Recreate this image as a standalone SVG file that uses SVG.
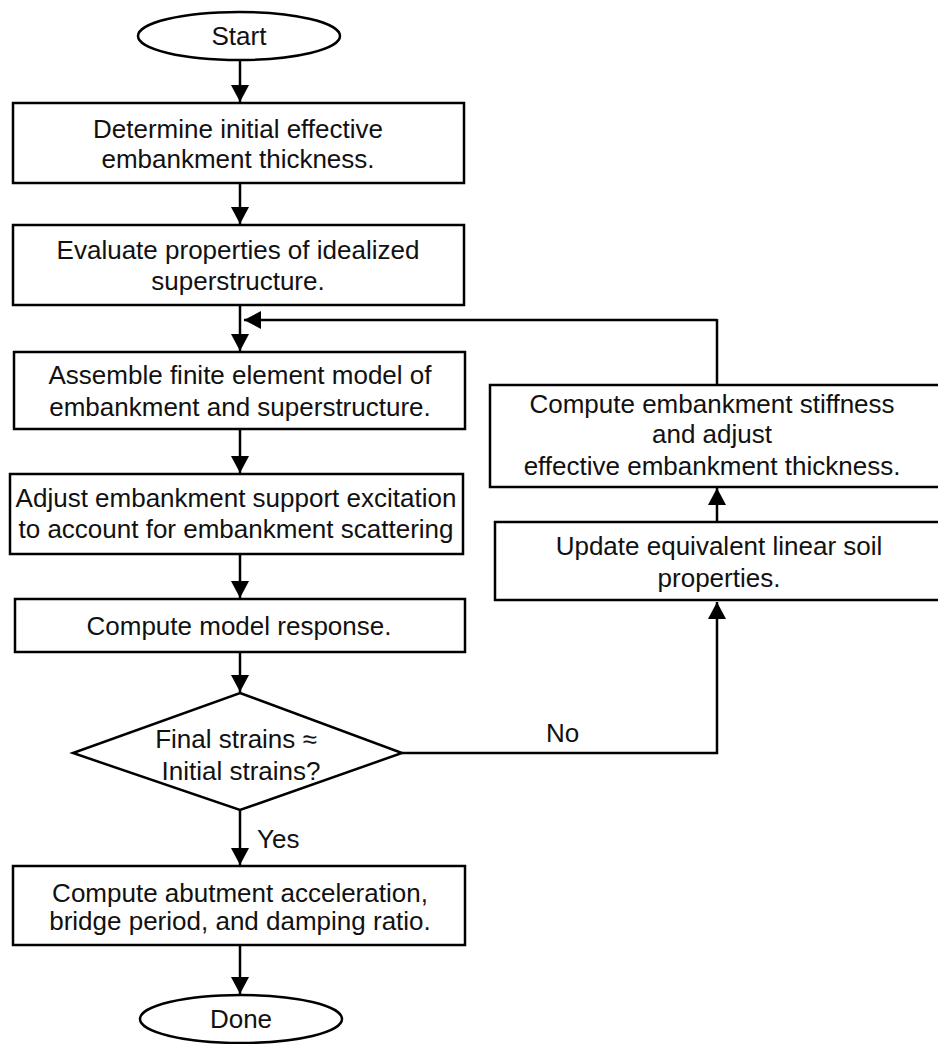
<svg xmlns="http://www.w3.org/2000/svg" width="938" height="1044" viewBox="0 0 938 1044">
<style>
.box{fill:#fff;stroke:#000;stroke-width:2.5}
.t{font-family:"Liberation Sans",Arial,sans-serif;font-size:26px;fill:#111;text-anchor:middle}
.lbl{font-family:"Liberation Sans",Arial,sans-serif;font-size:26px;fill:#111}
.c{fill:none;stroke:#000;stroke-width:2.5}
</style>
<defs>
<marker id="ah" markerUnits="userSpaceOnUse" markerWidth="18" markerHeight="18" viewBox="0 0 18 18" refX="17" refY="9" orient="auto">
<path d="M0,0 L17,9 L0,18 Z" fill="#000"/>
</marker>
</defs>
<rect width="938" height="1044" fill="#fff"/>
<g id="connectors">
<line class="c" x1="240" y1="60" x2="240" y2="102" marker-end="url(#ah)"/>
<line class="c" x1="240" y1="183" x2="240" y2="224" marker-end="url(#ah)"/>
<line class="c" x1="240" y1="305" x2="240" y2="351" marker-end="url(#ah)"/>
<line class="c" x1="717" y1="320" x2="244" y2="320" marker-end="url(#ah)"/>
<line class="c" x1="717" y1="385" x2="717" y2="319"/>
<line class="c" x1="240" y1="429" x2="240" y2="473" marker-end="url(#ah)"/>
<line class="c" x1="240" y1="554" x2="240" y2="598" marker-end="url(#ah)"/>
<line class="c" x1="240" y1="652" x2="240" y2="692" marker-end="url(#ah)"/>
<line class="c" x1="240" y1="810" x2="240" y2="865" marker-end="url(#ah)"/>
<line class="c" x1="240" y1="945" x2="240" y2="994" marker-end="url(#ah)"/>
<polyline class="c" points="402,753 717,753 717,602" marker-end="url(#ah)"/>
<line class="c" x1="717" y1="522" x2="717" y2="488" marker-end="url(#ah)"/>
<text class="lbl" x="546" y="742">No</text>
<text class="lbl" x="257" y="848">Yes</text>
</g>
<g id="start">
<ellipse class="box" cx="239" cy="36" rx="101" ry="24"/>
<text class="t" x="239" y="45">Start</text>
</g>
<g id="determine">
<rect class="box" x="13" y="103" width="451" height="80"/>
<text class="t" x="238" y="138">Determine initial effective</text>
<text class="t" x="238" y="168">embankment thickness.</text>
</g>
<g id="evaluate">
<rect class="box" x="13" y="225" width="451" height="80"/>
<text class="t" x="238" y="259">Evaluate properties of idealized</text>
<text class="t" x="238" y="290">superstructure.</text>
</g>
<g id="assemble">
<rect class="box" x="14" y="352" width="451" height="77"/>
<text class="t" x="240" y="384">Assemble finite element model of</text>
<text class="t" x="240" y="416">embankment and superstructure.</text>
</g>
<g id="adjust">
<rect class="box" x="10" y="474" width="453" height="80"/>
<text class="t" x="236" y="507">Adjust embankment support excitation</text>
<text class="t" x="236" y="538">to account for embankment scattering</text>
</g>
<g id="compute-response">
<rect class="box" x="15" y="599" width="450" height="53"/>
<text class="t" x="239" y="635">Compute model response.</text>
</g>
<g id="decision">
<polygon class="box" points="240,693 402,753 240,810 73,753"/>
<text class="t" x="236" y="748">Final strains ≈</text>
<text class="t" x="241" y="780">Initial strains?</text>
</g>
<g id="compute-abutment">
<rect class="box" x="13" y="866" width="452" height="79"/>
<text class="t" x="240" y="902">Compute abutment acceleration,</text>
<text class="t" x="240" y="930">bridge period, and damping ratio.</text>
</g>
<g id="done">
<ellipse class="box" cx="241" cy="1019" rx="101" ry="24"/>
<text class="t" x="241" y="1028">Done</text>
</g>
<g id="stiffness">
<rect class="box" x="490" y="385" width="460" height="102"/>
<text class="t" x="712" y="413">Compute embankment stiffness</text>
<text class="t" x="712" y="443">and adjust</text>
<text class="t" x="712" y="475">effective embankment thickness.</text>
</g>
<g id="update">
<rect class="box" x="495" y="522" width="455" height="78"/>
<text class="t" x="719" y="555">Update equivalent linear soil</text>
<text class="t" x="719" y="587">properties.</text>
</g>
</svg>
